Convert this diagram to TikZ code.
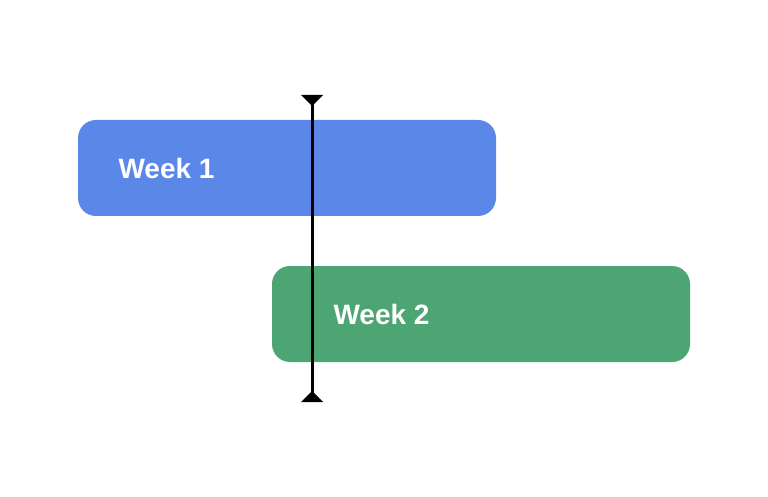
\documentclass[tikz,border=0pt]{standalone}
\usepackage{fontspec}
\setmainfont{Liberation Sans}
\usetikzlibrary{positioning}
\definecolor{weekblue}{HTML}{5B88E8}
\definecolor{weekgreen}{HTML}{4DA574}
\begin{document}
\begin{tikzpicture}[x=1pt, y=1pt,
  week/.style={rounded corners=18pt, minimum width=418pt, minimum height=96pt, inner sep=0pt},
  label/.style={text=white, font=\fontsize{28}{32}\selectfont\bfseries, anchor=west}]
\useasboundingbox (0,0) rectangle (768,496);
\node[week, fill=weekblue] (w1) at (287,328) {};
\node[week, fill=weekgreen] (w2) at (481,182) {};
\node[label] (l1) at (115,328) {Week 1};
\node[label] (l2) at (330,182) {Week 2};
\coordinate (top) at (312,401);
\coordinate (bot) at (312,94);
\draw[line width=3pt] (top) -- (bot);
\fill (301,401) -- (323,401) -- (312,390) -- cycle;
\fill (301,94) -- (323,94) -- (312,105) -- cycle;
\end{tikzpicture}
\end{document}
